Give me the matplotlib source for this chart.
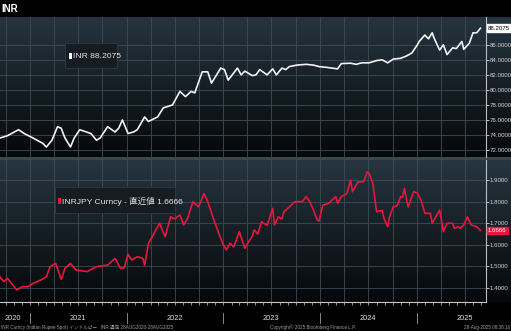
import numpy as np
import pandas as pd
import matplotlib
matplotlib.use('Agg')
import matplotlib.pyplot as plt
from matplotlib.patches import Rectangle
from matplotlib import font_manager

# pick a narrow font if there is one, otherwise Liberation Sans a bit smaller
avail = {f.name for f in font_manager.fontManager.ttflist}
if 'Liberation Sans Narrow' in avail:
    FONT = ['Liberation Sans Narrow', 'Noto Sans CJK JP', 'DejaVu Sans']
    k = 1.0
else:
    FONT = ['Liberation Sans', 'Noto Sans CJK JP', 'DejaVu Sans']
    k = 0.8
plt.rcParams['font.family'] = FONT

# weekly data, week index counted from start date
start = pd.Timestamp('2020-09-10')

inr_week = [0, 4, 10, 13, 17, 23, 25, 28, 31, 33, 35, 38, 40, 43, 49, 52, 54, 58, 62, 64,
            66, 69, 72, 74, 78, 80, 85, 88, 93, 97, 100, 103, 105, 109, 112, 114, 116, 119,
            121, 123, 128, 130, 132, 136, 138, 140, 144, 147, 149, 152, 154, 156, 160, 165,
            169, 172, 176, 179, 182, 184, 189, 192, 195, 199, 203, 206, 209, 212, 216, 219,
            222, 225, 226, 229, 231, 233, 234, 237, 239, 241, 244, 246, 249, 250, 253, 255,
            257, 259]
inr_val = [73.6, 73.9, 74.7, 74.2, 73.7, 72.9, 72.4, 73.3, 75.1, 74.9, 73.6, 72.4, 73.6,
           74.7, 74.2, 73.3, 73.6, 75.1, 74.4, 74.9, 76.0, 74.2, 74.4, 74.7, 76.4, 75.8,
           76.4, 77.6, 78.0, 79.8, 79.1, 79.8, 79.6, 82.4, 82.4, 80.9, 81.7, 82.9, 82.7,
           81.3, 82.9, 82.0, 82.5, 81.9, 82.0, 82.7, 82.0, 82.8, 82.0, 82.9, 82.7, 83.1,
           83.3, 83.4, 83.3, 83.1, 83.0, 82.9, 82.8, 83.5, 83.55, 83.4, 83.6, 83.6, 83.9,
           84.0, 83.6, 84.1, 84.2, 84.5, 84.9, 86.0, 86.45, 87.3, 86.8, 87.6, 86.9, 85.3,
           86.0, 84.7, 85.6, 85.5, 86.45, 85.4, 86.2, 87.6, 87.6, 88.2075]

jpy_week = [0, 2, 4, 9, 12, 15, 18, 22, 25, 27, 30, 33, 35, 38, 41, 47, 52, 58, 62, 65,
            67, 69, 71, 74, 77, 78, 80, 82, 86, 89, 92, 94, 97, 99, 101, 104, 107, 110, 112,
            115, 120, 122, 124, 126, 128, 129, 132, 134, 136, 137, 139, 141, 144, 147, 148,
            150, 152, 153, 156, 159, 163, 165, 167, 169, 171, 172, 174, 177, 181, 182, 184,
            187, 189, 190, 193, 196, 198, 199, 201, 203, 206, 207, 209, 210, 212, 214, 216,
            217, 218, 220, 223, 225, 227, 229, 232, 233, 237, 239, 241, 244, 245, 247, 248,
            250, 252, 254, 257, 259]
jpy_val = [1.452, 1.429, 1.445, 1.391, 1.406, 1.406, 1.422, 1.437, 1.452, 1.499, 1.514,
           1.440, 1.491, 1.514, 1.483, 1.476, 1.499, 1.506, 1.537, 1.491, 1.494, 1.556,
           1.530, 1.545, 1.537, 1.506, 1.607, 1.637, 1.700, 1.637, 1.730, 1.720, 1.738,
           1.692, 1.720, 1.800, 1.776, 1.838, 1.800, 1.722, 1.607, 1.576, 1.607, 1.590,
           1.637, 1.661, 1.584, 1.614, 1.640, 1.669, 1.650, 1.707, 1.690, 1.769, 1.692,
           1.730, 1.720, 1.753, 1.776, 1.800, 1.800, 1.823, 1.800, 1.761, 1.715, 1.710,
           1.784, 1.792, 1.823, 1.792, 1.823, 1.838, 1.900, 1.846, 1.892, 1.892, 1.938,
           1.930, 1.885, 1.753, 1.760, 1.722, 1.684, 1.730, 1.776, 1.780, 1.823, 1.820,
           1.861, 1.776, 1.846, 1.840, 1.807, 1.746, 1.746, 1.700, 1.761, 1.661, 1.700,
           1.700, 1.676, 1.684, 1.676, 1.692, 1.730, 1.692, 1.684, 1.6666]

inr_ticks = [72, 74, 76, 78, 80, 82, 84, 86]
jpy_ticks = [1.4, 1.5, 1.6, 1.7, 1.8, 1.9]
years = [2020, 2021, 2022, 2023, 2024, 2025]

inr_dates = start + pd.to_timedelta(np.array(inr_week) * 7, unit='D')
jpy_dates = start + pd.to_timedelta(np.array(jpy_week) * 7, unit='D')
x_end = start + pd.Timedelta(days=262 * 7)

W, H = 511, 331
fig = plt.figure(figsize=(W / 100, H / 100), dpi=100, facecolor='black')


def fy(px):
    return 1 - px / H


grid_c = '#3e4c57'
tick_c = '#d4d4d4'
tsize = 5.5 * k


def panel(top, bot, dates, vals, ylim, ticks, color, box_fc, box_tc):
    # gradient background across the full width
    bg = fig.add_axes([0, fy(bot), 1, (bot - top) / H], zorder=0)
    g = np.linspace(0, 1, 256)[:, None, None]
    c_top = np.array([38, 53, 64]) / 255
    c_bot = np.array([6, 8, 10]) / 255
    img = c_top * (1 - g) + c_bot * g
    bg.imshow(img, aspect='auto', extent=[0, 1, 0, 1])
    bg.axis('off')

    ax = fig.add_axes([0, fy(bot), 486 / W, (bot - top) / H], zorder=1)
    ax.set_facecolor('none')
    for q in pd.date_range('2020-10-01', '2025-07-01', freq='QS'):
        ax.axvline(q, color=grid_c, lw=0.6, zorder=1)
    ax.plot(dates, vals, color=color, lw=1.2, zorder=3)
    ax.set_xlim(start, x_end)
    ax.set_ylim(*ylim)
    ax.set_yticks(ticks)
    ax.set_yticklabels(['%.4f' % t for t in ticks])
    ax.yaxis.tick_right()
    ax.yaxis.grid(True, color=grid_c, lw=0.6)
    ax.tick_params(axis='y', colors=tick_c, labelsize=tsize, length=1.8, width=0.6, pad=0.6)
    ax.set_xticks([])
    for s in ['top', 'left', 'bottom']:
        ax.spines[s].set_visible(False)
    ax.spines['right'].set_color('#b8bec4')
    ax.spines['right'].set_linewidth(0.8)
    ax.text(1.004, vals[-1], '%.4f' % vals[-1], transform=ax.get_yaxis_transform(),
            fontsize=tsize, color=box_tc, va='center', ha='left', zorder=5,
            bbox=dict(boxstyle='square,pad=0.2', fc=box_fc, ec=box_fc), clip_on=False)
    return ax


ax1 = panel(17, 157, inr_dates, inr_val, (71.07, 89.7), inr_ticks, '#f2f2f2',
            'white', 'black')
ax2 = panel(160, 302, jpy_dates, jpy_val, (1.335, 1.993), jpy_ticks, '#e8163c',
            '#e8163c', 'white')

# separator between panels
fig.add_artist(Rectangle((0, fy(160)), 1, 3 / H, transform=fig.transFigure,
                         fc='#3a4650', ec='none'))

# bottom time axis
ax2.spines['bottom'].set_visible(True)
ax2.spines['bottom'].set_color('#c8c8c8')
ax2.spines['bottom'].set_linewidth(0.8)
months = pd.date_range('2020-10-01', '2025-09-01', freq='MS')
ax2.set_xticks(months)
ax2.set_xticklabels([])
ax2.tick_params(axis='x', colors='#c8c8c8', length=2, width=0.5, direction='out')
ax2.set_xlim(start, x_end)
for y in years:
    if y > 2020:
        ax2.plot([pd.Timestamp(f'{y}-01-01')] * 2, [-0.075, -0.15], color='#9a9a9a',
                 lw=0.6, transform=ax2.get_xaxis_transform(), clip_on=False)
    mid = max(pd.Timestamp(f'{y}-07-01'), pd.Timestamp('2020-10-28'))
    ax2.text(mid, -0.113, str(y), transform=ax2.get_xaxis_transform(), fontsize=6.6 * k,
             color='#e0e0e0', ha='center', va='center')

# legend boxes
for (x0, y0, x1, y1, mc, label, tx, ty) in [
        (65, 43, 117, 68, 'white', 'INR 88.2075', 73, 56),
        (55, 187, 175, 213, '#e8163c', 'INRJPY Curncy - 直近値 1.6666', 62, 201)]:
    fig.add_artist(Rectangle((x0 / W, fy(y1)), (x1 - x0) / W, (y1 - y0) / H,
                             transform=fig.transFigure, fc='#151d23', ec='#2e3a43',
                             lw=0.6, zorder=6))
    fig.add_artist(Rectangle(((tx - 4) / W, fy(ty + 3)), 3 / W, 6 / H,
                             transform=fig.transFigure, fc=mc, ec='none', zorder=7))
    fig.text(tx / W, fy(ty), label, fontsize=7.6 * k, color='#e6e6e6', va='center',
             ha='left', zorder=8)

# header and footer
fig.text(1 / W, fy(9), 'INR', fontsize=7, fontweight='bold', color='white', va='center')
fig.text(1 / W, fy(327.5), 'INR Curncy (Indian Rupee Spot) インドルピー   INR 週足 28AUG2020-28AUG2025',
         fontsize=3.3, color='#a0a0a0', va='center')
fig.text(270 / W, fy(327.5), 'Copyright© 2025 Bloomberg Finance L.P.', fontsize=3.3,
         color='#a0a0a0', va='center')
fig.text(510 / W, fy(327.5), '28-Aug-2025 08:38:16', fontsize=3.3, color='#a0a0a0',
         va='center', ha='right')

fig.savefig('out.png', dpi=100, facecolor='black')
